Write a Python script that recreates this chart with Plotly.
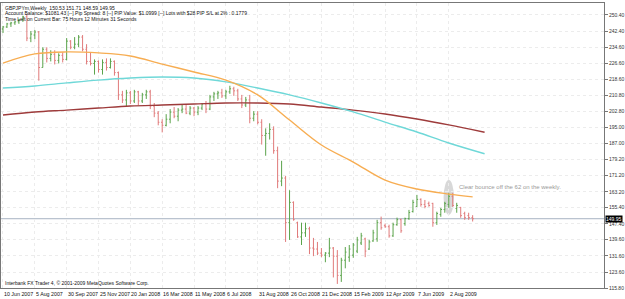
import plotly.graph_objects as go

# ---------------- data ----------------
date_labels = ["10 Jun 2007", "5 Aug 2007", "30 Sep 2007", "25 Nov 2007", "20 Jan 2008",
               "16 Mar 2008", "11 May 2008", "6 Jul 2008", "31 Aug 2008", "26 Oct 2008",
               "21 Dec 2008", "15 Feb 2009", "12 Apr 2009", "7 Jun 2009", "2 Aug 2009"]
date_label_bars = [0, 8, 16, 24, 32, 40, 48, 56, 64, 72, 80, 88, 96, 104, 112]

opens = [243.5, 244.5, 246.0, 246.5, 247.0, 248.0, 249.5, 239.0, 240.5, 242.0,
         224.5, 233.5, 229.0, 231.0, 228.0, 230.5, 228.5, 237.5, 234.5, 236.0,
         239.5, 233.5, 227.5, 226.5, 227.5, 223.5, 227.0, 224.5, 227.5, 222.0,
         211.0, 208.5, 212.0, 208.0, 212.5, 208.0, 211.0, 212.5, 205.5, 202.0,
         197.5, 196.0, 199.0, 202.5, 200.5, 203.5, 204.0, 202.0, 204.5, 202.5,
         204.5, 206.5, 204.0, 210.0, 211.5, 212.0, 210.5, 212.5, 214.0, 213.0,
         209.0, 206.0, 208.5, 199.5, 201.5, 197.5, 191.0, 192.0, 194.0, 183.5,
         168.5, 170.0, 148.0, 158.0, 148.0, 141.0, 143.0, 145.0, 135.5, 135.0,
         133.0, 132.0, 133.0, 135.5, 131.5, 122.0, 129.5, 131.0, 132.0, 134.0,
         138.0, 140.0, 135.0, 139.0, 140.0, 148.0, 146.5, 146.0, 141.5, 147.0,
         149.5, 147.5, 150.0, 153.5, 156.0, 159.5, 157.0, 157.5, 157.5, 148.0,
         152.0, 154.5, 157.0, 161.0, 155.0, 155.5, 152.5, 151.5, 150.53]
highs = [245.0, 246.5, 247.0, 247.5, 248.5, 250.0, 251.0, 242.5, 243.0, 242.5,
         234.5, 234.5, 233.0, 233.0, 231.5, 232.0, 239.0, 238.0, 239.5, 240.5,
         240.5, 236.0, 232.0, 228.5, 228.0, 228.5, 229.0, 229.0, 228.0, 222.5,
         213.0, 213.5, 213.0, 213.5, 213.0, 212.0, 213.5, 213.5, 207.0, 203.0,
         199.0, 201.5, 204.0, 205.0, 204.5, 206.5, 206.0, 205.5, 205.0, 205.5,
         207.0, 208.0, 211.0, 212.5, 213.0, 214.0, 213.5, 215.5, 215.0, 214.0,
         211.0, 210.0, 211.0, 203.0, 203.0, 199.0, 194.5, 197.0, 195.5, 185.5,
         178.5, 171.0, 164.0, 158.5, 148.5, 148.0, 148.0, 146.0, 140.5, 138.5,
         135.5, 133.5, 140.5, 136.0, 134.5, 130.7, 136.0, 137.0, 138.0, 141.0,
         143.0, 140.6, 139.5, 144.5, 149.4, 151.0, 147.5, 147.0, 148.0, 150.5,
         150.0, 150.5, 154.3, 159.3, 161.7, 160.0, 159.2, 158.4, 157.8, 153.4,
         155.3, 158.3, 162.7, 162.7, 157.8, 155.8, 153.4, 152.9, 151.71]
lows = [241.5, 244.0, 244.5, 245.5, 246.0, 247.0, 237.5, 237.0, 238.5, 218.0,
        224.5, 227.0, 227.5, 226.0, 226.5, 227.0, 228.0, 233.5, 233.5, 234.5,
        232.5, 226.0, 225.5, 221.0, 222.0, 221.0, 223.0, 224.0, 220.5, 208.5,
        207.0, 205.5, 206.5, 207.0, 206.0, 207.0, 209.0, 204.0, 200.0, 196.0,
        192.5, 195.5, 197.0, 199.5, 198.0, 202.0, 201.5, 201.0, 200.5, 201.0,
        203.5, 202.0, 203.5, 208.0, 209.0, 209.5, 209.0, 211.5, 210.5, 208.0,
        204.5, 205.0, 197.0, 198.0, 196.5, 186.5, 181.0, 189.0, 182.0, 165.0,
        166.0, 138.5, 139.5, 149.0, 140.5, 137.0, 141.0, 132.5, 131.5, 132.0,
        131.0, 128.5, 131.0, 121.0, 117.8, 118.8, 125.5, 128.7, 130.7, 133.0,
        137.0, 131.0, 134.6, 138.6, 138.6, 144.5, 145.5, 140.6, 141.0, 146.5,
        143.0, 146.5, 149.4, 153.0, 155.8, 155.9, 155.1, 155.9, 146.0, 146.9,
        150.9, 152.9, 155.3, 155.8, 152.9, 150.4, 149.4, 149.4, 148.59]
closes = [244.5, 246.0, 246.5, 247.0, 248.0, 249.5, 239.0, 241.0, 242.0, 224.5,
          233.5, 229.0, 231.0, 228.0, 230.5, 228.5, 237.5, 234.5, 236.0, 239.5,
          233.5, 227.5, 226.5, 227.5, 223.5, 227.0, 224.5, 227.5, 222.0, 211.0,
          208.5, 212.0, 208.0, 212.5, 208.0, 211.0, 212.5, 205.5, 202.0, 197.5,
          196.0, 199.0, 202.5, 200.5, 203.5, 204.0, 202.0, 204.5, 202.5, 204.5,
          206.5, 204.0, 210.0, 211.5, 212.0, 210.5, 212.5, 214.0, 213.0, 209.0,
          206.0, 208.5, 199.5, 201.5, 197.5, 191.0, 192.0, 194.0, 183.5, 168.5,
          170.0, 148.0, 158.0, 149.5, 141.0, 143.0, 145.0, 135.5, 135.0, 133.0,
          132.0, 133.0, 135.5, 131.5, 122.0, 129.5, 133.5, 135.0, 137.0, 139.5,
          141.5, 134.0, 138.5, 143.0, 148.0, 145.5, 146.0, 141.5, 147.0, 149.5,
          144.0, 150.0, 153.0, 158.0, 159.5, 157.0, 156.0, 156.5, 148.0, 152.5,
          154.5, 157.5, 161.0, 156.5, 156.5, 151.5, 150.5, 150.5, 149.95]

# moving averages read at sampled bars
ma_bars_fast = [0, 8, 16, 24, 32, 40, 48, 56, 64, 72, 80, 88, 96, 104, 112, 118]
ma_orange = [226.7, 231.2, 232.2, 231.7, 230.2, 226.2, 222.3, 218.3, 211.0, 198.6,
             186.3, 177.9, 169.0, 164.6, 162.1, 160.7]
ma_bars_slow = [0, 8, 16, 24, 32, 40, 48, 56, 64, 72, 80, 88, 96, 104, 112, 121]
ma_cyan = [214.4, 215.4, 216.9, 218.3, 219.3, 219.8, 219.3, 217.4, 214.4, 211.0,
           207.0, 202.6, 197.6, 192.7, 187.3, 182.0]
ma_darkred = [201.1, 202.6, 203.5, 204.5, 205.5, 206.0, 206.5, 207.0, 207.0, 206.5,
              205.0, 203.5, 201.6, 199.1, 196.2, 192.6]

price_ticks = [250.40, 242.40, 234.60, 226.60, 218.60, 210.80, 202.80, 195.00, 187.00,
               179.20, 171.20, 163.20, 155.40, 147.40, 139.60, 131.60, 123.60, 115.80]
last_price = 149.95

header_lines = [
    "GBPJPYm,Weekly  150.53 151.71 148.59 149.95",
    "Account Balance: $1081.43 [--] Pip Spread: 8 [--] PIP Value: $1.0999 [--] Lots with $28 PIP S/L at 2% : 0.1779",
    "Time Left on Current Bar: 75 Hours 12 Minutes 31 Seconds",
]
note_text = "Clear bounce off the 62 on the weekly."
copyright_text = "Interbank FX Trader 4, \u00a9 2001-2009 MetaQuotes Software Corp."

bars = list(range(len(closes)))

# ---------------- figure ----------------
FONT = "Liberation Sans"
fig = go.Figure()

fig.add_trace(go.Scatter(x=ma_bars_slow, y=ma_darkred, mode="lines",
                         line=dict(color="#9e3b3b", width=1.4, shape="spline"),
                         hoverinfo="skip", showlegend=False))
fig.add_trace(go.Scatter(x=ma_bars_slow, y=ma_cyan, mode="lines",
                         line=dict(color="#6fd8d8", width=1.4, shape="spline"),
                         hoverinfo="skip", showlegend=False))
fig.add_trace(go.Scatter(x=ma_bars_fast, y=ma_orange, mode="lines",
                         line=dict(color="#f7ad52", width=1.4, shape="spline"),
                         hoverinfo="skip", showlegend=False))

fig.add_trace(go.Ohlc(x=bars, open=opens, high=highs, low=lows, close=closes,
                      increasing=dict(line=dict(color="#5aa34a", width=1)),
                      decreasing=dict(line=dict(color="#e07a7a", width=1)),
                      tickwidth=0.3, showlegend=False))

# current price line
fig.add_shape(type="line", xref="paper", x0=0, x1=1, yref="y", y0=last_price, y1=last_price,
              line=dict(color="#a7b3c2", width=1), layer="below")

# highlight ellipse
fig.add_shape(type="circle", xref="x", yref="y", x0=110.7, x1=113.3, y0=151.8, y1=169.0,
              fillcolor="rgba(190,190,190,0.6)", line=dict(width=0), layer="below")

ann = []
for i, t in enumerate(header_lines):
    ann.append(dict(xref="paper", yref="paper", x=0.003, y=1, xanchor="left", yanchor="top",
                    yshift=-(i * 5.3), text=t, showarrow=False,
                    font=dict(family=FONT, size=5, color="#111")))
ann.append(dict(xref="x", yref="y", x=114, y=165.6, xanchor="left", yanchor="middle",
                text=note_text, showarrow=False, font=dict(family=FONT, size=6, color="#9a9a9a")))
ann.append(dict(xref="paper", yref="paper", x=0.003, y=0, xanchor="left", yanchor="bottom",
                yshift=0, text=copyright_text, showarrow=False,
                font=dict(family=FONT, size=5, color="#111")))
for b, t in zip(date_label_bars, date_labels):
    ann.append(dict(xref="x", yref="paper", x=b, y=0, xanchor="left", yanchor="top",
                    xshift=-1, yshift=-1, text=t, showarrow=False,
                    font=dict(family=FONT, size=5.3, color="#111")))
ann.append(dict(xref="paper", yref="y", x=1, y=last_price, xanchor="left", yanchor="middle",
                xshift=1, text="149.95", showarrow=False, bgcolor="#000", borderpad=0,
                font=dict(family=FONT, size=5, color="#fff")))

fig.update_layout(
    width=625, height=299,
    margin=dict(l=0, r=19, t=3, b=11),
    paper_bgcolor="white", plot_bgcolor="white",
    annotations=ann,
    xaxis=dict(range=[-0.5, 151], tickvals=date_label_bars, showticklabels=False,
               ticks="", showgrid=True, gridcolor="#ececec", griddash="dot",
               showline=True, linecolor="#777", linewidth=1, mirror=True,
               rangeslider=dict(visible=False), zeroline=False, fixedrange=True),
    yaxis=dict(range=[115.8, 256.3], side="right", tickvals=price_ticks,
               ticktext=[f"{v:.2f}" for v in price_ticks], ticks="outside", ticklen=3,
               tickcolor="#777", tickfont=dict(family=FONT, size=5, color="#333"),
               showgrid=True, gridcolor="#ececec", griddash="dot",
               showline=True, linecolor="#777", linewidth=1, mirror=True, zeroline=False),
)

fig.write_html("out.html")
